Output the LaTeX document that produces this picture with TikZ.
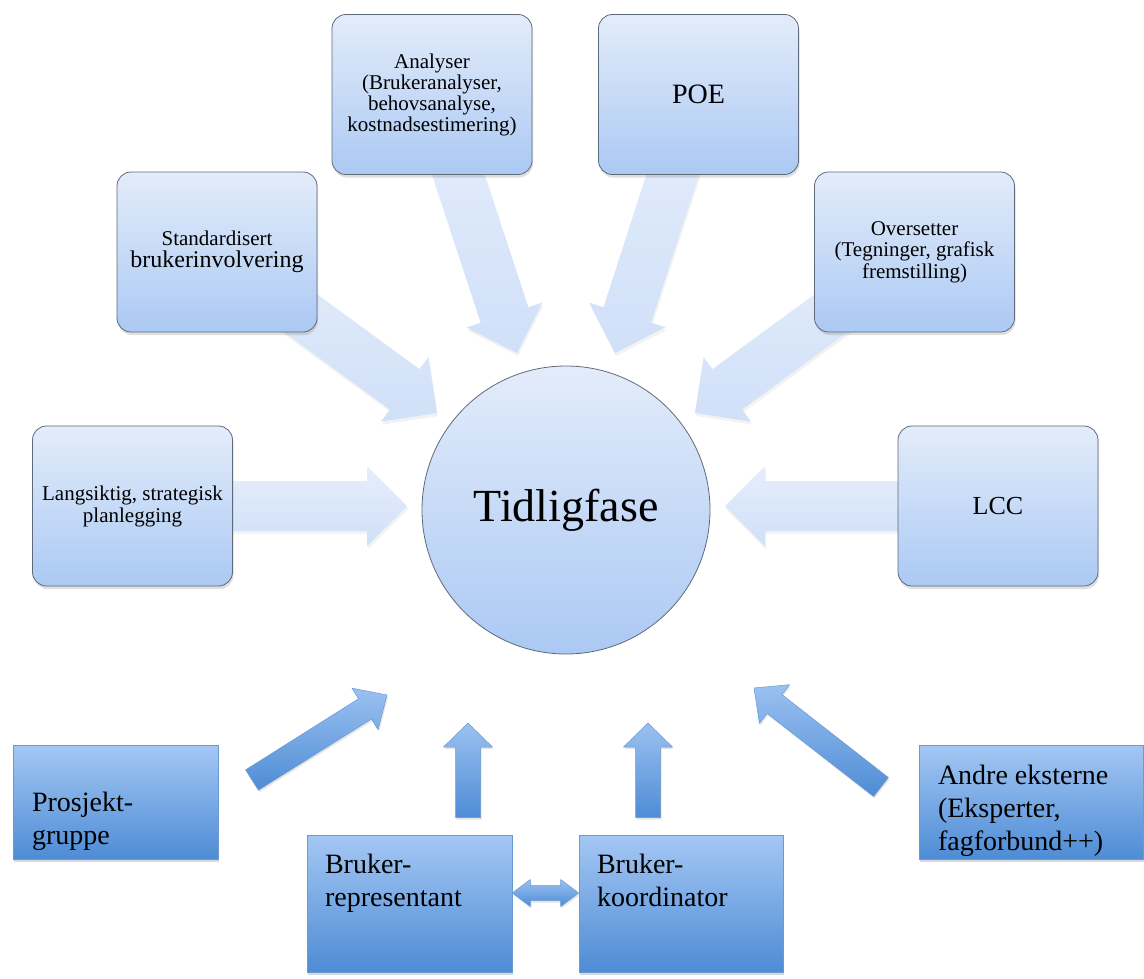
\documentclass[tikz,border=0pt]{standalone}
\usepackage{fontspec}
\setmainfont{Liberation Serif}
\usetikzlibrary{calc,shadows}
\definecolor{paletop}{HTML}{E3ECFA}
\definecolor{palebot}{HTML}{ABC9F4}
\definecolor{paleline}{HTML}{5F6A78}
\definecolor{fadetop}{HTML}{E6EEFB}
\definecolor{fadebot}{HTML}{D0E0F8}
\definecolor{deeptop}{HTML}{A4C7F4}
\definecolor{deepbot}{HTML}{4E8CD5}
\definecolor{deepline}{HTML}{6A99D5}
\pgfdeclarelayer{background}
\pgfsetlayers{background,main}

% blokkpil: [stil]{fra}{til}{skaft}{hode}{hodelengde}
\newcommand\fatarrow[6][]{%
  \path[#1] let \p1=(#2), \p2=(#3), \n1={atan2(\y2-\y1,\x2-\x1)}, \n2={veclen(\x2-\x1,\y2-\y1)} in
    [shift={(\p1)}, rotate=\n1]
    (0,#4/2) -- (\n2-#6,#4/2) -- (\n2-#6,#5/2) -- (\n2,0) -- (\n2-#6,-#5/2) -- (\n2-#6,-#4/2) -- (0,-#4/2) -- cycle;}
% dobbel blokkpil
\newcommand\twinarrow[6][]{%
  \path[#1] let \p1=(#2), \p2=(#3), \n1={atan2(\y2-\y1,\x2-\x1)}, \n2={veclen(\x2-\x1,\y2-\y1)} in
    [shift={(\p1)}, rotate=\n1]
    (0,0) -- (#6,#5/2) -- (#6,#4/2) -- (\n2-#6,#4/2) -- (\n2-#6,#5/2) -- (\n2,0) -- (\n2-#6,-#5/2) -- (\n2-#6,-#4/2) -- (#6,-#4/2) -- (#6,-#5/2) -- cycle;}

\begin{document}
\begin{tikzpicture}[x=1pt, y=-1pt,
    softbox/.style={draw=paleline, line width=0.8pt, rounded corners=14pt, top color=paletop, bottom color=palebot,
      minimum width=200pt, minimum height=160pt, align=center, inner sep=4pt,
      drop shadow={opacity=0.25, shadow xshift=1pt, shadow yshift=-3pt}},
    hub/.style={circle, draw=paleline, line width=0.8pt, top color=paletop, bottom color=palebot,
      minimum size=288pt, inner sep=0pt, font=\fontsize{46}{50}\selectfont},
    deepbox/.style={draw=deepline, line width=0.6pt, top color=deeptop, bottom color=deepbot, inner sep=0pt,
      font=\fontsize{28}{33}\selectfont,
      drop shadow={opacity=0.3, shadow xshift=1pt, shadow yshift=-3pt}},
    fadedarrow/.style={top color=fadetop, bottom color=fadebot,
      drop shadow={opacity=0.1, shadow xshift=1pt, shadow yshift=-3pt}},
    solidarrow/.style={draw=deepline, line width=0.5pt, line join=round, top color=deeptop!90!deepbot, bottom color=deepbot,
      drop shadow={opacity=0.2, shadow xshift=1pt, shadow yshift=-2pt}}]
  \useasboundingbox (0,0) rectangle (1144,978);

  % midten
  \node[hub] (tf) at (566,510) {Tidligfase};

  % boksene rundt
  \node[softbox, font=\fontsize{21}{22}\selectfont] (lang) at (132.5,506) {Langsiktig, strategisk\\planlegging};
  \node[softbox, font=\fontsize{21}{22}\selectfont] (std) at (217,252) {Standardisert\\{\fontsize{24}{26}\selectfont brukerinvolvering}};
  \node[softbox, font=\fontsize{21}{21}\selectfont] (ana) at (432,94.5) {Analyser\\(Brukeranalyser,\\behovsanalyse,\\kostnadsestimering)};
  \node[softbox, font=\fontsize{28}{30}\selectfont] (poe) at (698.5,94.5) {POE};
  \node[softbox, font=\fontsize{21}{21.5}\selectfont] (ovs) at (914.5,252) {Oversetter\\(Tegninger, grafisk\\fremstilling)};
  \node[softbox, font=\fontsize{26}{28}\selectfont] (lcc) at (998,506) {LCC};

  % aktørene nederst
  \node[deepbox, minimum width=205pt, minimum height=114pt] (pg) at (115.5,802)
    {\parbox[c][114pt][t]{167pt}{\raggedright\vspace{43pt}\strut Prosjekt-\\gruppe}};
  \node[deepbox, minimum width=205pt, minimum height=137pt] (br) at (409.5,903.5)
    {\parbox[c][137pt][t]{169pt}{\raggedright\vspace{15pt}\strut Bruker-\\representant}};
  \node[deepbox, minimum width=204pt, minimum height=137pt] (bk) at (681,903.5)
    {\parbox[c][137pt][t]{168pt}{\raggedright\vspace{15pt}\strut Bruker-\\koordinator}};
  \node[deepbox, minimum width=224pt, minimum height=114pt] (ae) at (1031,802)
    {\parbox[c][114pt][t]{186pt}{\raggedright\vspace{16pt}\strut Andre eksterne\\(Eksperter,\\fagforbund++)}};

  % pilspisser
  \coordinate (tipL) at (407,506);
  \coordinate (tipR) at (725,506);
  \coordinate (tipS) at (437,413);
  \coordinate (tipO) at (695,413);
  \coordinate (tipA) at (517,353);
  \coordinate (tipP) at (615,353);
  \coordinate (pgA) at (252,780);
  \coordinate (pgB) at (387,695);
  \coordinate (aeA) at (881,787);
  \coordinate (aeB) at (754,688);
  \coordinate (brA) at ($(br.north)+(58.5,-17)$);
  \coordinate (brB) at (468,723);
  \coordinate (bkA) at ($(bk.north)+(-33,-17)$);
  \coordinate (bkB) at (648,723);
  \coordinate (lnkA) at ($(br.east)+(0,-10.5)$);
  \coordinate (lnkB) at ($(bk.west)+(0,-10.5)$);

  \begin{pgfonlayer}{background}
    \fill[white] (0,0) rectangle (1144,978);
    % lyse piler inn mot midten
    \fatarrow[fadedarrow]{lang}{tipL}{50}{80}{40}
    \fatarrow[fadedarrow]{lcc}{tipR}{50}{80}{40}
    \fatarrow[fadedarrow]{std}{tipS}{50}{80}{40}
    \fatarrow[fadedarrow]{ovs}{tipO}{50}{80}{40}
    \fatarrow[fadedarrow]{ana}{tipA}{50}{80}{40}
    \fatarrow[fadedarrow]{poe}{tipP}{50}{80}{40}
    % blå piler nederst
    \fatarrow[solidarrow]{pgA}{pgB}{24}{49}{26}
    \fatarrow[solidarrow]{aeA}{aeB}{24}{49}{26}
    \fatarrow[solidarrow]{brA}{brB}{25}{49}{24}
    \fatarrow[solidarrow]{bkA}{bkB}{25}{49}{24}
    \twinarrow[solidarrow]{lnkA}{lnkB}{15}{27}{18}
  \end{pgfonlayer}
\end{tikzpicture}
\end{document}
